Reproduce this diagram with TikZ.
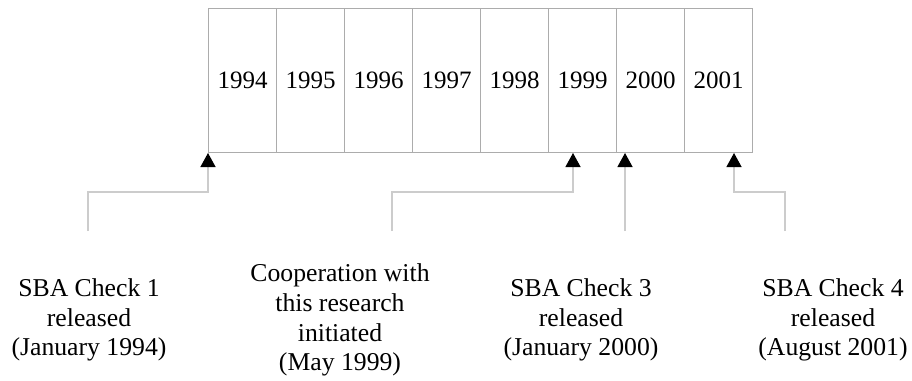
\documentclass[tikz,border=0pt]{standalone}
\usepackage{fontspec}
\setmainfont{Liberation Serif}
\usetikzlibrary{arrows.meta}
\begin{document}
\begin{tikzpicture}[x=1pt,y=-1pt,
  cell/.style={draw=gray!65,line width=1pt,minimum width=68pt,minimum height=144pt,inner sep=0pt,anchor=north west,font=\fontsize{25}{30}\selectfont},
  lbl/.style={align=center,inner sep=0pt,font=\fontsize{25.7}{29.8}\selectfont},
  conn/.style={draw=gray!40,line width=1.3pt,-{Triangle[length=14pt,width=15pt,fill=black,color=black]}}]
\useasboundingbox (0,0) rectangle (912,380);
\fill[white] (0,0) rectangle (912,380);
% year cells
\node[cell] (y1994) at (208,8) {1994};
\node[cell] (y1995) at (276,8) {1995};
\node[cell] (y1996) at (344,8) {1996};
\node[cell] (y1997) at (412,8) {1997};
\node[cell] (y1998) at (480,8) {1998};
\node[cell] (y1999) at (548,8) {1999};
\node[cell] (y2000) at (616,8) {2000};
\node[cell] (y2001) at (684,8) {2001};
% arrow targets on the bottom edge
\coordinate (t1) at (208,153);
\coordinate (t2) at (573,153);
\coordinate (t3) at (625,153);
\coordinate (t4) at (734,153);
% connector start points
\coordinate (s1) at (88,231);
\coordinate (s2) at (392,231);
\coordinate (s3) at (625,231);
\coordinate (s4) at (785,231);
% labels
\node[lbl] (l1) at (89,320) {SBA Check 1\\released\\(January 1994)};
\node[lbl] (l2) at (340,320) {Cooperation with\\this research\\initiated\\(May 1999)};
\node[lbl] (l3) at (581,320) {SBA Check 3\\released\\(January 2000)};
\node[lbl] (l4) at (833,320) {SBA Check 4\\released\\(August 2001)};
% connectors
\draw[conn] (s1) |- (208,192) -- (t1);
\draw[conn] (s2) |- (573,192) -- (t2);
\draw[conn] (s3) -- (t3);
\draw[conn] (s4) |- (734,192) -- (t4);
\end{tikzpicture}
\end{document}
